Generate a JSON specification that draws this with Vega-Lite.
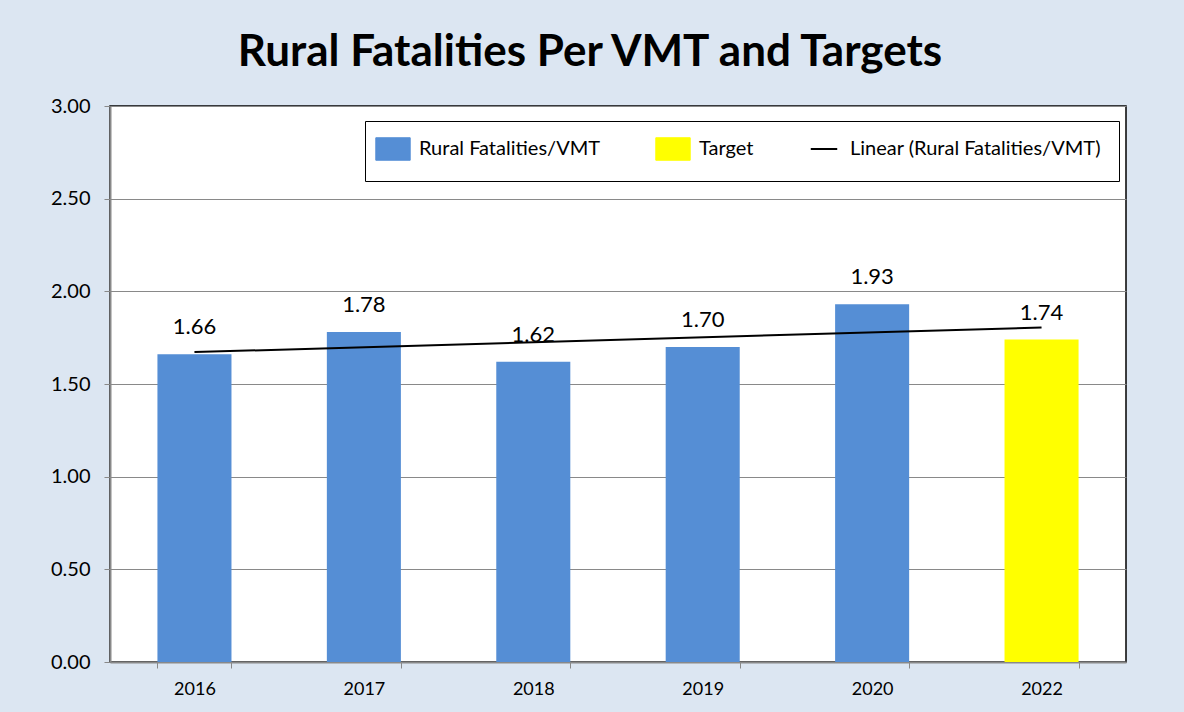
{
  "$schema": "https://vega.github.io/schema/vega-lite/v6.json",
  "width": 1016,
  "height": 556,
  "autosize": {"type": "none"},
  "padding": {"left": 110, "top": 106, "right": 58, "bottom": 50},
  "background": "#dce6f2",
  "title": {
    "text": "Rural Fatalities Per VMT and Targets",
    "font": "Lato",
    "fontSize": 44,
    "fontWeight": "bold",
    "color": "#000000",
    "anchor": "middle",
    "dx": -28,
    "offset": 21
  },
  "config": {
    "view": {"fill": "white", "stroke": "#000000", "strokeWidth": 1.5},
    "font": "Lato"
  },
  "datasets": {
    "bars": [
      {"year": "2016", "value": 1.66, "series": "Rural Fatalities/VMT"},
      {"year": "2017", "value": 1.78, "series": "Rural Fatalities/VMT"},
      {"year": "2018", "value": 1.62, "series": "Rural Fatalities/VMT"},
      {"year": "2019", "value": 1.70, "series": "Rural Fatalities/VMT"},
      {"year": "2020", "value": 1.93, "series": "Rural Fatalities/VMT"},
      {"year": "2022", "value": 1.74, "series": "Target"}
    ],
    "trend": [
      {"year": "2016", "value": 1.672, "series": "Linear (Rural Fatalities/VMT)"},
      {"year": "2022", "value": 1.805, "series": "Linear (Rural Fatalities/VMT)"}
    ]
  },
  "encoding": {
    "x": {
      "field": "year",
      "type": "ordinal",
      "scale": {"domain": ["2016", "2017", "2018", "2019", "2020", "2022"], "paddingInner": 0.563, "paddingOuter": 0.28},
      "axis": {
        "title": null,
        "labelAngle": 0,
        "labelFontSize": 18,
        "labelColor": "#000000",
        "labelPadding": 12,
        "tickBand": "extent",
        "tickColor": "#898989",
        "tickSize": 6,
        "domainColor": "#898989",
        "domainWidth": 2,
        "grid": false
      }
    },
    "y": {
      "field": "value",
      "type": "quantitative",
      "scale": {"domain": [0, 3], "nice": false},
      "axis": {
        "title": null,
        "values": [0, 0.5, 1, 1.5, 2, 2.5, 3],
        "format": ".2f",
        "labelFontSize": 20,
        "labelColor": "#000000",
        "labelPadding": 14,
        "tickColor": "#898989",
        "tickSize": 6,
        "domainColor": "#898989",
        "domainWidth": 2,
        "grid": true,
        "gridColor": "#898989",
        "gridWidth": 1
      }
    }
  },
  "layer": [
    {
      "data": {"name": "bars"},
      "mark": {"type": "bar"},
      "encoding": {
        "color": {
          "field": "series",
          "type": "nominal",
          "scale": {
            "domain": ["Rural Fatalities/VMT", "Target", "Linear (Rural Fatalities/VMT)"],
            "range": ["#558ed5", "#ffff00", "#000000"]
          },
          "legend": {
            "title": null,
            "orient": "none",
            "legendX": 255,
            "legendY": 15,
            "direction": "horizontal",
            "gridAlign": "none",
            "fillColor": "white",
            "strokeColor": "#000000",
            "padding": 18,
            "labelFontSize": 20,
            "labelColor": "#000000",
            "labelOffset": 16,
            "symbolType": "square",
            "symbolSize": 700,
            "symbolStrokeWidth": 1,
            "columnPadding": 52,
            "labelLimit": 400,
            "encode": {
              "symbols": {
                "update": {
                  "shape": {"signal": "datum.label == 'Linear (Rural Fatalities/VMT)' ? 'stroke' : 'M-1.3,-0.85H1.3V0.85H-1.3Z'"},
                  "stroke": {"signal": "datum.label == 'Target' ? '#8c8c8c' : (datum.label == 'Rural Fatalities/VMT' ? '#3f6fa8' : '#000000')"},
                  "strokeWidth": {"signal": "datum.label == 'Linear (Rural Fatalities/VMT)' ? 2 : 1"}
                }
              }
            }
          }
        }
      }
    },
    {
      "data": {"name": "bars"},
      "mark": {"type": "text", "dy": -27, "fontSize": 22, "color": "#000000"},
      "encoding": {
        "text": {"field": "value", "type": "quantitative", "format": ".2f"}
      }
    },
    {
      "data": {"name": "trend"},
      "mark": {"type": "line", "strokeWidth": 2},
      "encoding": {
        "color": {"field": "series", "type": "nominal"}
      }
    }
  ]
}
